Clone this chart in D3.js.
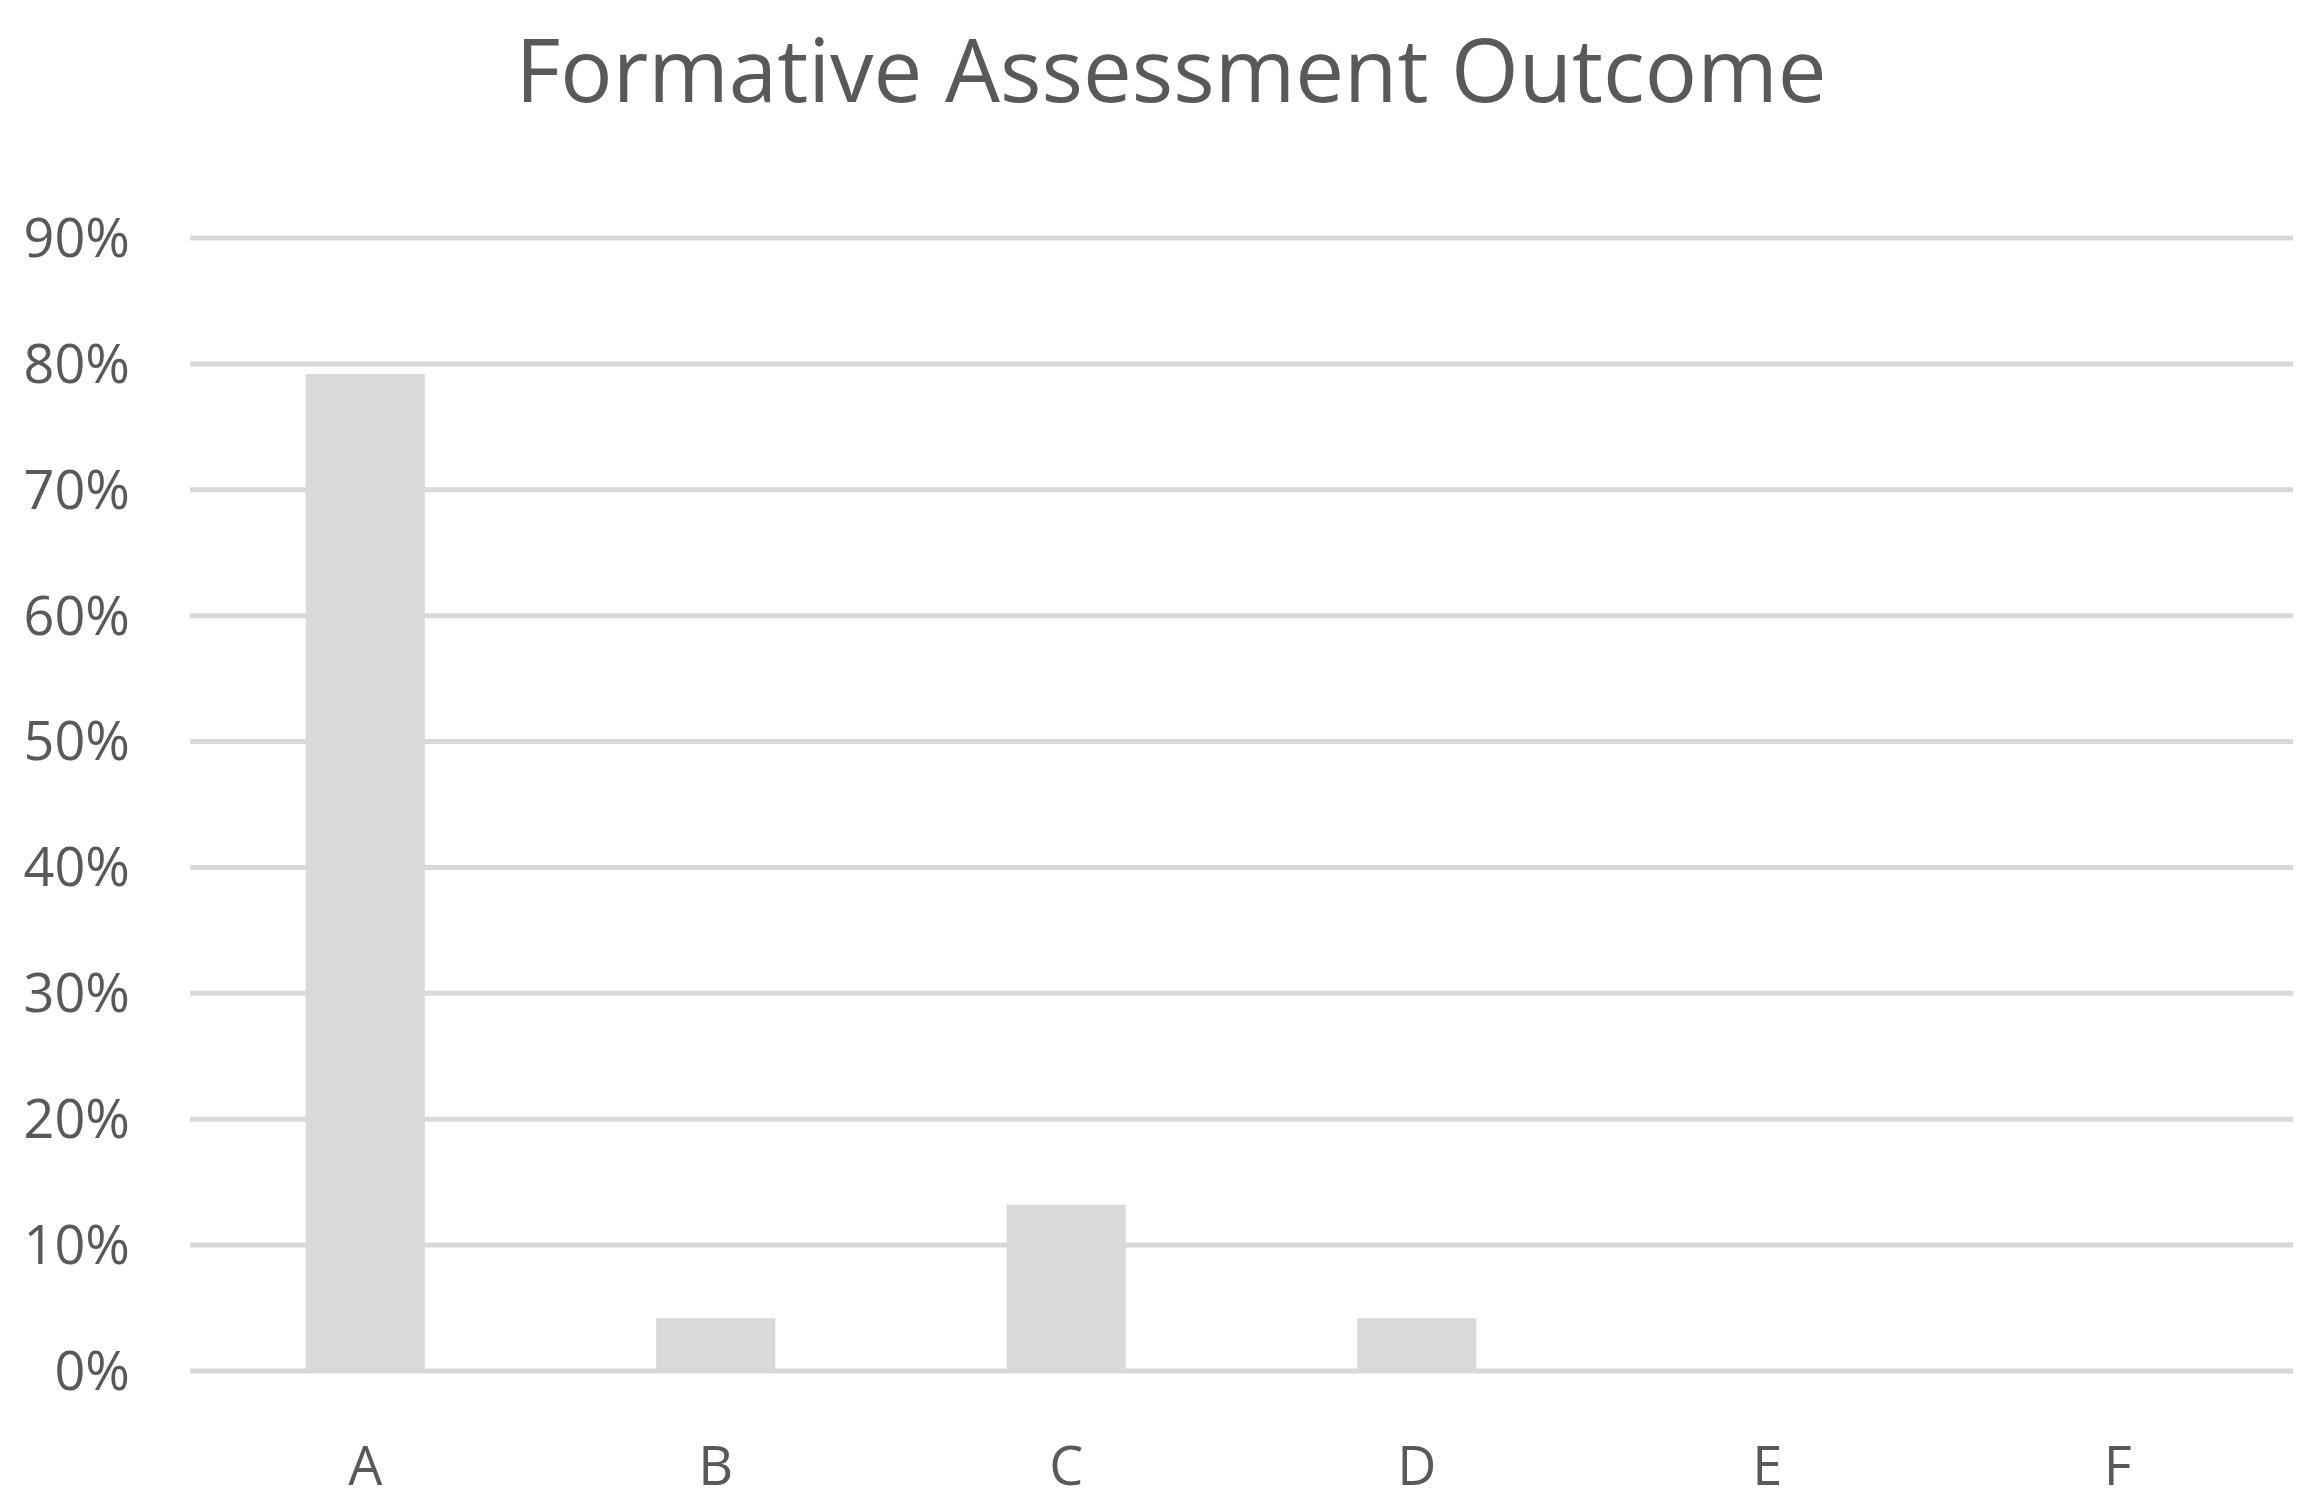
<!DOCTYPE html>
<html lang="en">
<head>
  <meta charset="UTF-8">
  <title>Formative Assessment Outcome</title>
  <script src="https://d3js.org/d3.v7.min.js"></script>
  <style>
    body { margin: 0; background: #fff; }
    svg { display: block; font-family: "Open Sans", sans-serif; }
  </style>
</head>
<body>
  <svg width="2312" height="1504"></svg>
  <script>
    const categories = ["A", "B", "C", "D", "E", "F"];
    const values = [79.2, 4.2, 13.2, 4.2, 0, 0];
    const yTicks = [0, 10, 20, 30, 40, 50, 60, 70, 80, 90];

    const svg = d3.select("svg");
    const margin = { top: 238, right: 19, bottom: 133, left: 190 };
    const width = 2312, height = 1504;

    const x = d3.scaleBand()
      .domain(categories)
      .range([margin.left, width - margin.right])
      .paddingInner(0.66)
      .paddingOuter(0.33);

    const y = d3.scaleLinear()
      .domain([0, 90])
      .range([height - margin.bottom, margin.top]);

    // gridlines
    svg.append("g")
      .selectAll("line")
      .data(yTicks)
      .join("line")
      .attr("x1", margin.left)
      .attr("x2", width - margin.right)
      .attr("y1", d => y(d))
      .attr("y2", d => y(d))
      .attr("stroke", "#d9d9d9")
      .attr("stroke-width", 5);

    // y labels
    svg.append("g")
      .selectAll("text")
      .data(yTicks)
      .join("text")
      .attr("x", 130)
      .attr("y", d => y(d))
      .attr("dy", "0.35em")
      .attr("text-anchor", "end")
      .attr("fill", "#595959")
      .attr("font-size", 54)
      .text(d => d + "%");

    // bars
    svg.append("g")
      .selectAll("rect")
      .data(values)
      .join("rect")
      .attr("x", (d, i) => x(categories[i]))
      .attr("width", x.bandwidth())
      .attr("y", d => y(d))
      .attr("height", d => y(0) - y(d))
      .attr("fill", "#d9d9d9");

    // x labels
    svg.append("g")
      .selectAll("text")
      .data(categories)
      .join("text")
      .attr("x", d => x(d) + x.bandwidth() / 2)
      .attr("y", 1485)
      .attr("text-anchor", "middle")
      .attr("fill", "#595959")
      .attr("font-size", 54)
      .text(d => d);

    svg.append("text")
      .attr("x", 1171)
      .attr("y", 102)
      .attr("text-anchor", "middle")
      .attr("fill", "#595959")
      .attr("font-size", 87)
      .text("Formative Assessment Outcome");
  </script>
</body>
</html>
